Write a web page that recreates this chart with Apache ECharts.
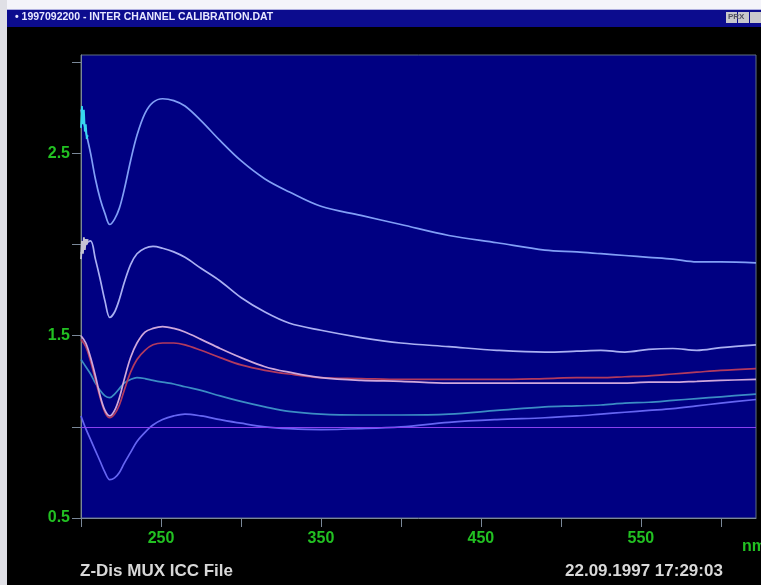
<!DOCTYPE html>
<html>
<head>
<meta charset="utf-8">
<script src="https://cdn.jsdelivr.net/npm/echarts@6/dist/echarts.min.js"></script>
<style>
html,body{margin:0;padding:0;background:#000;}
#c{width:761px;height:585px;}
</style>
</head>
<body>
<div id="c"></div>
<script>
// ---- data ----
var wavelength = [200,203,206,209,212,215,218,221,224,227,231,235,240,245,251,258,265,275,287,300,315,330,350,375,400,430,460,490,510,525,540,555,570,585,600,622];
var curveTop   = [2.74,2.62,2.50,2.36,2.25,2.17,2.11,2.14,2.20,2.30,2.46,2.60,2.72,2.78,2.80,2.79,2.76,2.68,2.57,2.46,2.36,2.29,2.21,2.16,2.11,2.05,2.01,1.97,1.96,1.95,1.94,1.93,1.92,1.905,1.905,1.90];
var curveSecond= [1.95,2.00,2.02,1.92,1.81,1.69,1.60,1.63,1.70,1.79,1.89,1.95,1.98,1.99,1.98,1.96,1.93,1.87,1.80,1.71,1.63,1.57,1.53,1.49,1.46,1.44,1.42,1.41,1.415,1.42,1.41,1.425,1.43,1.42,1.435,1.45];
var curvePink  = [1.50,1.46,1.38,1.28,1.17,1.09,1.06,1.09,1.16,1.26,1.38,1.46,1.52,1.54,1.55,1.54,1.52,1.48,1.43,1.38,1.33,1.30,1.27,1.255,1.25,1.24,1.24,1.24,1.24,1.24,1.24,1.245,1.245,1.25,1.255,1.26];
var curveRed   = [1.48,1.44,1.36,1.26,1.16,1.08,1.05,1.07,1.12,1.20,1.30,1.37,1.42,1.45,1.46,1.46,1.45,1.42,1.38,1.34,1.31,1.29,1.27,1.265,1.26,1.26,1.26,1.265,1.27,1.27,1.275,1.28,1.29,1.30,1.31,1.32];
var curveTeal  = [1.37,1.33,1.29,1.24,1.20,1.17,1.16,1.18,1.21,1.24,1.26,1.27,1.265,1.255,1.245,1.235,1.22,1.20,1.17,1.14,1.11,1.085,1.07,1.065,1.065,1.07,1.09,1.11,1.115,1.12,1.13,1.135,1.145,1.155,1.165,1.18];
var curveBlue  = [1.06,0.99,0.93,0.87,0.81,0.75,0.71,0.72,0.75,0.80,0.86,0.92,0.97,1.01,1.04,1.06,1.07,1.06,1.04,1.02,1.00,0.99,0.985,0.99,1.00,1.025,1.04,1.05,1.06,1.07,1.08,1.09,1.10,1.115,1.13,1.15];
var startWl    = [200,200.6,201.2,201.8,202.4,203,203.6,204.2];
var startCyan  = [2.64,2.76,2.66,2.74,2.62,2.66,2.58,2.60];
var startGrey  = [1.92,2.02,1.95,2.04,1.97,2.03,2.00,2.03];
var refLevel   = 1.0;
var xLabels    = [250,350,450,550];
var yLabels    = [0.5,1.5,2.5];

function pairs(xs, ys){ return xs.map(function(x,i){ return [x, ys[i]]; }); }

var chart = echarts.init(document.getElementById('c'), null, {renderer:'canvas'});

function lineSeries(name, ys, color, xs){
  return {
    name: name, type: 'line', data: pairs(xs || wavelength, ys),
    showSymbol: false, smooth: 0.35, animation: false,
    lineStyle: {color: color, width: 1.7}
  };
}

var series = [
  lineSeries('blue', curveBlue, '#6565f2'),
  lineSeries('teal', curveTeal, '#3b8cc4'),
  lineSeries('red', curveRed, '#b23a5e'),
  lineSeries('pink', curvePink, '#cfa8dc'),
  lineSeries('second', curveSecond, '#aab0f2'),
  lineSeries('top', curveTop, '#819ff6'),
  {
    name: 'startCyan', type:'line', data: pairs(startWl, startCyan), showSymbol:false,
    animation:false, lineStyle:{color:'#38d8f0', width:1.8}
  },
  {
    name: 'startGrey', type:'line', data: pairs(startWl, startGrey), showSymbol:false,
    animation:false, lineStyle:{color:'#c4c4d4', width:1.8}
  }
];
series[0].markLine = {
  silent: true, symbol: 'none', animation:false, label:{show:false},
  lineStyle:{color:'#8a40f0', width:1.2, type:'solid'},
  data: [{yAxis: refLevel}]
};

var labelFont = {color:'#22c022', fontFamily:'Liberation Sans, Arial, sans-serif', fontSize:16, fontWeight:'bold'};

chart.setOption({
  backgroundColor: '#000000',
  animation: false,
  grid: {left:81, right:5, top:55, bottom:67, show:true, backgroundColor:'#000082', borderColor:'#5e6e80', borderWidth:1},
  xAxis: {
    type:'value', min:200, max:622, interval:50,
    axisLine:{show:true, lineStyle:{color:'#7a8898', width:1}},
    axisTick:{show:true, length:9, lineStyle:{color:'#7a8898'}},
    splitLine:{show:false},
    axisLabel: Object.assign({margin:13, showMaxLabel:false, formatter:function(v){ return xLabels.indexOf(v) >= 0 ? String(v) : ''; }}, labelFont)
  },
  yAxis: {
    type:'value', min:0.5, max:3.04, interval:0.5,
    axisLine:{show:true, lineStyle:{color:'#7a8898', width:1}},
    axisTick:{show:true, length:9, lineStyle:{color:'#7a8898'}},
    splitLine:{show:false},
    axisLabel: Object.assign({margin:11, showMaxLabel:false, formatter:function(v){ return yLabels.indexOf(Math.round(v*10)/10) >= 0 ? v.toFixed(1) : ''; }}, labelFont)
  },
  series: series,
  graphic: [
    {type:'rect', left:0, top:0, shape:{width:761, height:9}, style:{fill:'#f4f4fa'}, z:100},
    {type:'rect', left:0, top:0, shape:{width:7, height:585}, style:{fill:'#e0e0e6'}, z:100},
    {type:'rect', left:7, top:9, shape:{width:754, height:1}, style:{fill:'#b0b0e0'}, z:100},
    {type:'rect', left:7, top:10, shape:{width:754, height:17}, style:{fill:'#0c0c8e'}, z:100},
    {type:'text', left:15, top:12, style:{text:'• 1997092200 - INTER CHANNEL CALIBRATION.DAT', fill:'#e8e8ff', font:'bold 10.5px Liberation Sans, Arial, sans-serif'}, z:101},
    {type:'rect', left:726, top:12, shape:{width:11, height:11}, style:{fill:'#c8c8cc'}, z:101},
    {type:'rect', left:738, top:12, shape:{width:11, height:11}, style:{fill:'#c8c8cc'}, z:101},
    {type:'rect', left:750, top:12, shape:{width:11, height:11}, style:{fill:'#c8c8cc'}, z:101},
    {type:'text', left:728, top:13, style:{text:'PRX', fill:'#505060', font:'bold 8px Liberation Sans, Arial, sans-serif'}, z:102},
    {type:'text', left:742, top:539, style:{text:'nm', fill:'#22c022', font:'bold 16px Liberation Sans, Arial, sans-serif'}, z:101},
    {type:'text', left:80, top:563, style:{text:'Z-Dis MUX ICC File', fill:'#d8d8d8', font:'bold 17px Liberation Sans, Arial, sans-serif'}, z:101},
    {type:'text', left:565, top:563, style:{text:'22.09.1997 17:29:03', fill:'#d8d8d8', font:'bold 17px Liberation Sans, Arial, sans-serif'}, z:101}
  ]
});
</script>
</body>
</html>
